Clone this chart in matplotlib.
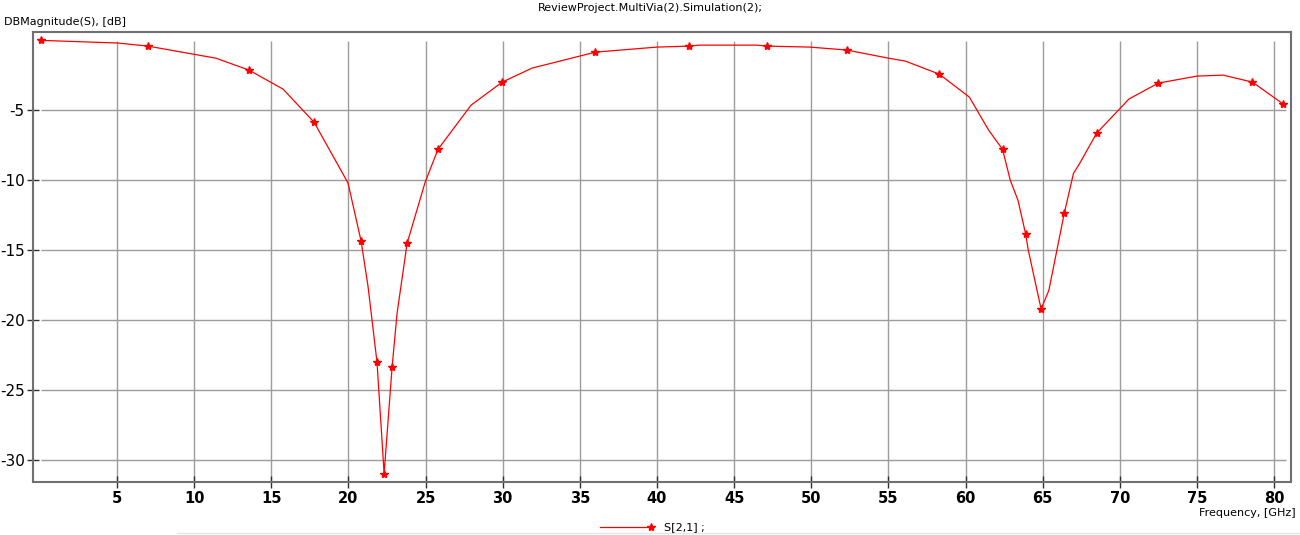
import numpy as np
import matplotlib.pyplot as plt
from matplotlib.lines import Line2D
from matplotlib.legend_handler import HandlerLine2D

# S21 (frequency in GHz, magnitude in dB)
freq = [0.05, 5.06, 7.0, 11.4, 13.55, 15.76, 17.77, 19.97, 20.82, 21.27,
        21.85, 22.31, 22.83, 23.15, 23.8, 24.97, 25.8, 27.95, 29.96, 31.9,
        36.0, 40.0, 42.1, 42.7, 46.5, 47.15, 49.9, 52.3, 55.0, 56.1,
        58.3, 60.25, 61.5, 62.4, 62.9, 63.4, 63.9, 64.07, 64.9, 65.4,
        66.4, 67.0, 67.4, 68.5, 70.6, 72.5, 75.0, 76.7, 78.6, 80.6]
s21 = [-0.02, -0.21, -0.43, -1.29, -2.14, -3.5, -5.86, -10.2, -14.36, -17.6,
       -23.0, -30.93, -23.3, -19.5, -14.5, -10.14, -7.8, -4.64, -3.0, -2.0,
       -0.86, -0.5, -0.43, -0.36, -0.36, -0.43, -0.5, -0.71, -1.29, -1.5,
       -2.43, -4.07, -6.43, -7.8, -10.0, -11.43, -13.86, -15.0, -19.2, -17.86,
       -12.36, -9.5, -8.8, -6.64, -4.2, -3.07, -2.57, -2.5, -3.0, -4.57]
# indices of the sweep points drawn with a marker
marked = [0, 2, 4, 6, 8, 10, 11, 12, 14, 16, 18, 20, 22, 25, 27, 30,
          33, 36, 38, 40, 43, 45, 48, 49]

xticks = [5, 10, 15, 20, 25, 30, 35, 40, 45, 50, 55, 60, 65, 70, 75, 80]
yticks = [-5, -10, -15, -20, -25, -30]


class MarkerAtEnd(HandlerLine2D):
    # legend sample: line with the marker sitting at its right end
    def create_artists(self, *args, **kwargs):
        arts = super().create_artists(*args, **kwargs)
        arts[0].set_markevery([len(arts[0].get_xdata()) - 1])
        return arts


plt.rcParams['font.family'] = ['Liberation Sans Narrow', 'DejaVu Sans']

fig = plt.figure(figsize=(13, 5.35), dpi=100)
ax = fig.add_axes([0.0254, 0.1, 0.9677, 0.84])

xmin, xmax = -0.45, 81.1
ymin, ymax = -31.5, 0.57
ax.set_xlim(xmin, xmax)
ax.set_ylim(ymin, ymax)

# grid only covers the swept area, like the original tool
gcol = '#9c9c9c'
ax.vlines(xticks, ymin, -0.07, color=gcol, lw=1, zorder=1)
ax.hlines(yticks, 0.05, 80.75, color=gcol, lw=1, zorder=1)

line, = ax.plot(freq, s21, color='#ff0000', lw=0.9, marker='*', ms=6,
                markevery=marked, mec='#ff0000', mfc='#ff0000', zorder=3,
                label='S[2,1] ;')

ax.set_xticks(xticks)
ax.set_yticks(yticks)
ax.set_xticklabels([str(t) for t in xticks], fontsize=10.5, fontweight='bold')
ax.set_yticklabels([str(t) for t in yticks], fontsize=11)
ax.tick_params(axis='x', direction='inout', length=8, width=1, color='#303030', pad=3)
ax.tick_params(axis='y', direction='inout', length=8, width=1, color='#303030', pad=2)

for sp in ax.spines.values():
    sp.set_color('#707070')
    sp.set_linewidth(1.5)

fig.text(0.5, 0.985, 'ReviewProject.MultiVia(2).Simulation(2);', ha='center', va='center', fontsize=8)
fig.text(0.003, 0.958, 'DBMagnitude(S), [dB]', ha='left', va='center', fontsize=8)
fig.text(0.997, 0.041, 'Frequency, [GHz]', ha='right', va='center', fontsize=8)

fig.legend(handles=[line], loc='center left', bbox_to_anchor=(0.454, 0.014),
           frameon=False, fontsize=8, handlelength=4.6, handletextpad=1.1,
           handler_map={line: MarkerAtEnd(numpoints=1)})

fig.add_artist(Line2D([0.136, 1.0], [0.004, 0.004], color='#e6e6e6', lw=1,
                      transform=fig.transFigure))

fig.savefig('out.png', dpi=100, facecolor='white')
